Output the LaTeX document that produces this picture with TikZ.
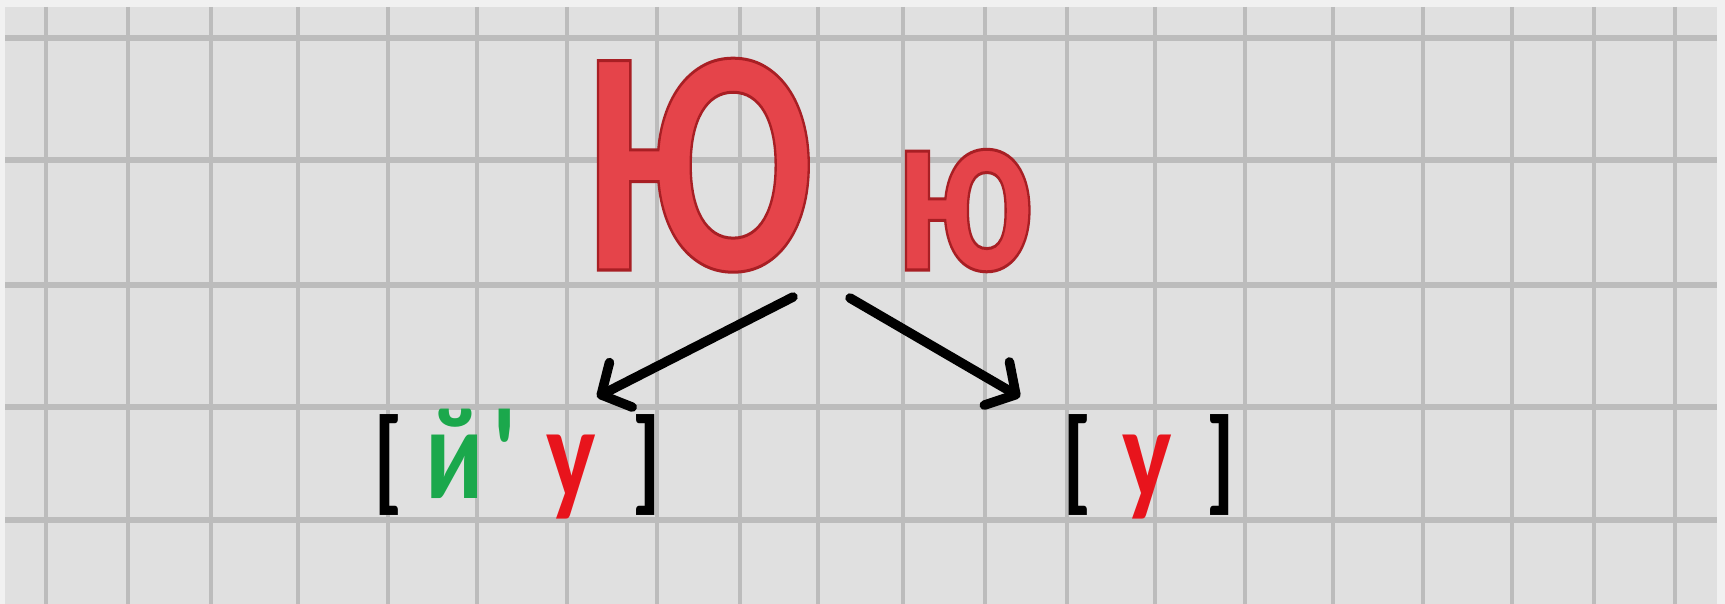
\documentclass[tikz,border=0pt]{standalone}
\usepackage{fontspec}
\setmainfont{Carlito}
\newfontfamily\cb{Carlito}[Ligatures=TeXOff]
\usetikzlibrary{arrows.meta}
\definecolor{paper}{HTML}{E0E0E0}
\definecolor{edgec}{HTML}{F1F1F1}
\definecolor{gridc}{HTML}{BCBCBC}
\definecolor{lred}{HTML}{E5444A}
\definecolor{sgreen}{HTML}{1BA84C}
\definecolor{sred}{HTML}{E8141C}
\newcommand\outl[1]{\special{pdf:code q 2 Tr 3 w 0.66 0.12 0.14 RG}#1\special{pdf:code Q}}
\newcommand\brk[1]{{\fontsize{115}{115}\selectfont #1}}
\tikzset{
  vline/.style={draw=gridc, line width=4.5pt},
  hline/.style={draw=gridc, line width=5.5pt},
  bigletter/.style={inner sep=0pt, anchor=base, font=\bfseries\fontsize{323}{323}\selectfont},
  smallletter/.style={inner sep=0pt, anchor=base, font=\bfseries\fontsize{245}{245}\selectfont},
  phon/.style={inner sep=0pt, anchor=base, font=\cb\bfseries\fontsize{131}{131}\selectfont},
  conn/.style={draw=black, line width=9.5pt, line cap=round,
    -{Straight Barb[length=22pt,width=50pt,round]}}
}
\begin{document}
\begin{tikzpicture}[x=1pt,y=-1pt]
\useasboundingbox (0,0) rectangle (1725,604);
\fill[edgec] (0,0) rectangle (1725,604);
\fill[paper] (5,7) rectangle (1717,604);
\foreach \x in {46,128,211,298,388,477,567,657,740,818,903,985,1067,1155,1245,1333,1423,1512,1594,1675}
  \draw[vline] (\x,7) -- (\x,604);
\foreach \y in {38,160,285,407,520}
  \draw[hline] (5,\y) -- (1717,\y);
% letters
\node[bigletter, text=lred] (BIG) at (698,270) {\scalebox{0.78}[1]{\outl{Ю}}};
\node[smallletter, text=lred] (SMALL) at (965,270) {\scalebox{0.76}[1]{\outl{ю}}};
% phonetic transcriptions
\node[phon] (L) at (517.5,498) {\scalebox{0.8}[1]{\brk{[}\hspace{-2pt} \textcolor{sgreen}{й\hspace{10pt}'} \hspace{8pt}\textcolor{sred}{у} \hspace{14pt}\brk{]}}};
\node[phon] (R) at (1149,498) {\scalebox{0.8}[1]{\brk{[}\hspace{8pt} \textcolor{sred}{у} \hspace{12pt}\brk{]}}};
% arrows
\coordinate (s1) at ([shift={(95,27)}]BIG.base);
\coordinate (s2) at ([shift={(152,28)}]BIG.base);
\coordinate (e1) at ([shift={(79.5,-101)}]L.base);
\coordinate (e2) at ([shift={(-129,-101)}]R.base);
\draw[conn] (s1) -- (e1);
\draw[conn] (s2) -- (e2);
\end{tikzpicture}
\end{document}
